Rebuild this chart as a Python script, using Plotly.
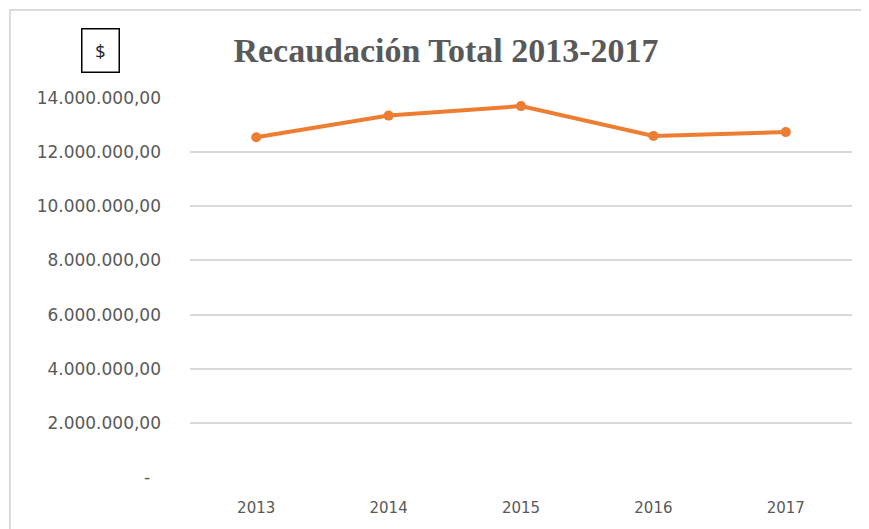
import plotly.graph_objects as go

years = ["2013", "2014", "2015", "2016", "2017"]
recaudacion = [12550000, 13350000, 13700000, 12600000, 12740000]
tick_values = [0, 2000000, 4000000, 6000000, 8000000, 10000000, 12000000, 14000000]
tick_labels = ["-\u00a0\u00a0", "2.000.000,00", "4.000.000,00", "6.000.000,00",
               "8.000.000,00", "10.000.000,00", "12.000.000,00", "14.000.000,00"]

# page body has an 8px margin; figure is sized/offset to compensate
W, H = 861, 521
L, R, T, B = 182, 17, 90, 52
pw, ph = W - L - R, H - T - B

def px(xp):  # screen x -> paper x
    return (xp - 8 - L) / pw

def py(yp):  # screen y -> paper y
    return (H - B - (yp - 8)) / ph

fig = go.Figure()
fig.add_trace(go.Scatter(
    x=years, y=recaudacion, mode="lines+markers",
    line=dict(color="#ED7D31", width=4),
    marker=dict(color="#ED7D31", size=10),
    showlegend=False,
))

fig.update_layout(
    width=W, height=H,
    margin=dict(l=L, r=R, t=T, b=B),
    paper_bgcolor="white", plot_bgcolor="white",
    title=dict(text="<b>Recaudación Total 2013-2017</b>", x=(446 - 8) / W, xanchor="center",
               y=1 - (50 - 8) / H, yanchor="middle",
               font=dict(family="Liberation Serif", size=34, color="#595959")),
    xaxis=dict(type="category", range=[-0.5, 4.5], showgrid=False, showline=False,
               zeroline=False, ticks="",
               tickfont=dict(family="DejaVu Sans", size=15, color="#595959"),
               ticklabelstandoff=20),
    yaxis=dict(range=[0, 14000000], tickvals=tick_values, ticktext=tick_labels,
               showgrid=True, gridcolor="#D9D9D9", gridwidth=1.5, zeroline=False,
               showline=False, ticks="",
               tickfont=dict(family="DejaVu Sans", size=17, color="#595959"),
               ticklabelstandoff=28),
    annotations=[dict(text="$", xref="paper", yref="paper",
                      x=px(100), y=py(50),
                      xanchor="center", yanchor="middle", showarrow=False,
                      font=dict(family="Open Sans", size=18, color="#222222"),
                      bordercolor="#000000", borderwidth=1.5, borderpad=10,
                      width=16, height=22)],
    shapes=[dict(type="rect", xref="paper", yref="paper",
                 x0=px(10), x1=px(890),
                 y0=py(560), y1=py(10),
                 line=dict(color="#D0D0D0", width=1.5), fillcolor="rgba(0,0,0,0)")],
)

fig.write_html("out.html")
